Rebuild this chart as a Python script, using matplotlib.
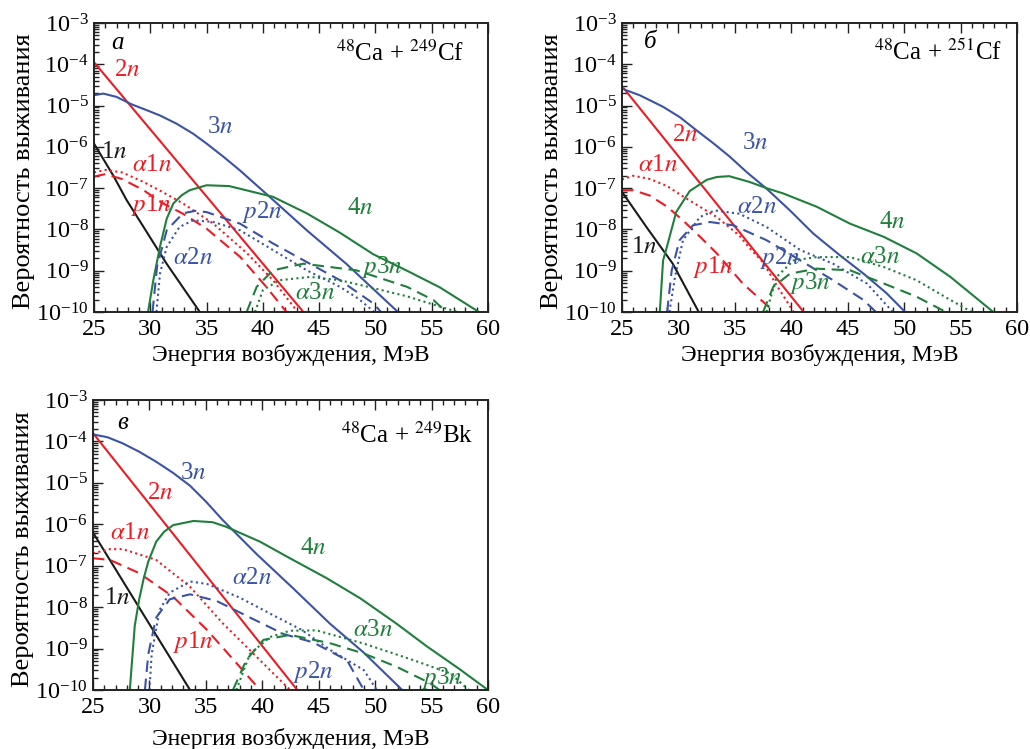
import numpy as np
import matplotlib
matplotlib.use("Agg")
import matplotlib.pyplot as plt
from matplotlib.ticker import LogLocator, MultipleLocator, NullFormatter

plt.rcParams['font.family'] = ['Liberation Serif', 'DejaVu Serif']
plt.rcParams['mathtext.fontset'] = 'stix'

RED = '#ec1c24'
BLUE = '#3a53a4'
GREEN = '#1f7f3b'
BLACK = '#1a1a1a'

# ---------------- data (energy in MeV, log10 of survival probability) -------
# panel a: 48Ca + 249Cf
a_2n_E = [25, 43.6];                          a_2n_lg = [-3.95, -10]
a_3n_E = [25, 25.83, 27.0, 28.34, 29.67, 30.86, 32.34, 33.8, 35.0, 36.5, 37.96, 40.6, 43.9, 47.4, 52.0]
a_3n_lg = [-4.75, -4.71, -4.79, -4.97, -5.11, -5.24, -5.44, -5.68, -5.92, -6.24, -6.57, -7.21, -8.02, -8.83, -10]
a_1n_E = [25, 26.7, 27.9, 29.4, 31.45, 34.4]
a_1n_lg = [-5.92, -6.69, -7.29, -7.94, -8.83, -10]
a_a1n_E = [25, 26, 27.5, 29.4, 31, 32.9, 35.6, 38.6, 40.9, 43.1]
a_a1n_lg = [-6.62, -6.56, -6.62, -6.85, -7.08, -7.37, -7.86, -8.58, -9.23, -10]
a_p1n_E = [25, 26, 27.5, 29.4, 31, 32.9, 35, 38, 40.3, 42.1]
a_p1n_lg = [-6.72, -6.66, -6.78, -7.05, -7.35, -7.62, -7.98, -8.67, -9.39, -10]
a_4n_E = [29.8, 30.27, 30.86, 31.46, 32.05, 32.8, 33.5, 35.0, 37.0, 40.9, 43.9, 46.85, 49.8, 52.8, 55.7, 59.2]
a_4n_lg = [-10, -9.23, -8.42, -7.74, -7.37, -7.17, -7.05, -6.93, -6.95, -7.21, -7.61, -8.08, -8.6, -9.0, -9.4, -10]
a_p2n_E = [30.2, 30.6, 31.46, 32.9, 34.0, 35.0, 37.97, 40.9, 43.9, 46.85, 49.8, 50.5]
a_p2n_lg = [-10, -8.9, -8.02, -7.61, -7.55, -7.58, -7.86, -8.34, -8.79, -9.23, -9.79, -10]
a_a2n_E = [30.55, 30.86, 31.46, 32.6, 33.8, 35.6, 37.97, 40.9, 43.9, 46.85, 48.5, 49.9]
a_a2n_lg = [-10, -9.07, -8.42, -7.94, -7.78, -7.82, -8.02, -8.5, -8.99, -9.39, -9.68, -10]
a_p3n_E = [38.56, 39.45, 40.9, 43.6, 48.3, 52.8, 55.15, 56.3]
a_p3n_lg = [-10, -9.39, -8.99, -8.83, -8.99, -9.39, -9.71, -10]
a_a3n_E = [39.3, 40.0, 41.5, 44.2, 46.85, 49.8, 52.8, 55.5, 57.3]
a_a3n_lg = [-10, -9.47, -9.23, -9.15, -9.23, -9.42, -9.62, -9.85, -10]

# panel b: 48Ca + 251Cf
b_2n_E = [25, 41.1];                          b_2n_lg = [-4.53, -10]
b_3n_E = [25, 26.57, 28.64, 30.12, 31.6, 33.08, 34.56, 36.04, 37.8, 39.88, 41.95, 44.32, 46.4, 48.46, 50.09]
b_3n_lg = [-4.59, -4.75, -5.03, -5.28, -5.6, -5.91, -6.24, -6.61, -7.01, -7.54, -8.10, -8.63, -9.07, -9.55, -10]
b_1n_E = [25, 27.16, 29.5, 31.8]
b_1n_lg = [-7.09, -7.94, -8.83, -10]
b_a1n_E = [25, 26, 27.5, 29, 30.4, 31.9, 33.4, 35.4, 36.3, 37.5, 38.7, 40.2]
b_a1n_lg = [-6.79, -6.70, -6.78, -6.95, -7.2, -7.45, -7.7, -8.15, -8.45, -8.8, -9.35, -10]
b_p1n_E = [25, 26, 27.46, 29, 30.4, 32, 33.4, 35.7, 38.1, 38.5]
b_p1n_lg = [-7.05, -7.05, -7.18, -7.45, -7.78, -8.2, -8.58, -9.31, -9.9, -10]
b_4n_E = [28.35, 28.64, 29.0, 29.8, 31.0, 32.5, 33.4, 34.5, 36.3, 37.8, 39.3, 42.25, 45.2, 48.2, 51.1, 54.1, 57.9]
b_4n_lg = [-10, -8.75, -8.4, -7.58, -7.07, -6.8, -6.73, -6.71, -6.85, -7.0, -7.13, -7.45, -7.86, -8.18, -8.58, -9.15, -10]
b_a2n_E = [29.2, 29.7, 30.4, 31.9, 33.2, 35.4, 37.8, 40.8, 43.7, 46.7, 49.0]
b_a2n_lg = [-10, -9.15, -8.26, -7.70, -7.54, -7.62, -7.94, -8.5, -8.83, -9.31, -10]
b_p2n_E = [29.0, 29.4, 30.1, 31.3, 32.8, 34.85, 37.8, 40.8, 43.7, 46.4, 47.5]
b_p2n_lg = [-10, -9.0, -8.26, -7.90, -7.82, -7.90, -8.26, -8.75, -9.23, -9.71, -10]
b_p3n_E = [37.5, 38.4, 39.9, 42.25, 45.2, 48.2, 51.1, 53.7]
b_p3n_lg = [-10, -9.39, -9.07, -8.95, -8.99, -9.31, -9.63, -10]
b_a3n_E = [37.8, 38.7, 40.2, 42.25, 45.2, 48.2, 51.1, 54.1, 56.0]
b_a3n_lg = [-10, -9.15, -8.75, -8.67, -8.67, -8.91, -9.23, -9.71, -10]

# panel c: 48Ca + 249Bk
c_2n_E = [25, 43.1];                          c_2n_lg = [-3.80, -10]
c_3n_E = [25, 26.3, 27.66, 29.1, 30.6, 32.1, 33.6, 35.0, 36.5, 39.5, 42.75, 46.0, 49.0, 52.4]
c_3n_lg = [-3.83, -3.9, -4.05, -4.25, -4.49, -4.76, -5.07, -5.45, -5.9, -6.72, -7.55, -8.4, -9.1, -10]
c_1n_E = [25, 29, 33.6]
c_1n_lg = [-6.2, -7.97, -10]
c_a1n_E = [25, 26.5, 27.66, 30.6, 33.6, 36.5, 39.5, 42.2, 42.5]
c_a1n_lg = [-6.70, -6.60, -6.60, -6.86, -7.51, -8.39, -9.2, -9.93, -10]
c_p1n_E = [25, 26.5, 29.1, 32.1, 35.1, 38.0, 39.8]
c_p1n_lg = [-6.82, -6.86, -7.18, -7.75, -8.55, -9.44, -10]
c_4n_E = [28.26, 28.7, 29.1, 29.5, 29.9, 30.6, 31.3, 32.1, 33.9, 35.6, 36.8, 39.8, 42.45, 45.7, 48.7, 51.9, 54.6, 57.5, 60.0]
c_4n_lg = [-10, -8.45, -7.8, -7.3, -6.9, -6.42, -6.18, -6.02, -5.92, -5.95, -6.06, -6.42, -6.82, -7.3, -7.79, -8.4, -8.95, -9.5, -10]
c_a2n_E = [30.0, 30.2, 30.9, 31.8, 33.6, 35.1, 38.0, 41.0, 43.5, 46.0, 49.0, 50.15]
c_a2n_lg = [-10, -9.13, -8.07, -7.65, -7.38, -7.44, -7.77, -8.2, -8.55, -9.03, -9.52, -10]
c_p2n_E = [29.6, 29.9, 30.6, 31.8, 33.6, 35.95, 38.9, 41.9, 44.5, 47.5, 49.0]
c_p2n_lg = [-10, -9.13, -8.25, -7.81, -7.69, -7.85, -8.25, -8.65, -8.85, -9.28, -10]
c_p3n_E = [37.4, 38.6, 40.1, 42.45, 46.0, 49.0, 51.9, 54.9, 55.7]
c_p3n_lg = [-10, -9.27, -8.79, -8.67, -8.87, -9.12, -9.44, -9.84, -10]
c_a3n_E = [37.7, 38.9, 40.7, 42.45, 44.8, 49.0, 53.4, 56.65, 58.3]
c_a3n_lg = [-10, -9.13, -8.72, -8.57, -8.56, -8.88, -9.28, -9.6, -10]

x_ticks = [25, 30, 35, 40, 45, 50, 55, 60]
panel_letters = ['а', 'б', 'в']
reactions = [r'$^{48}$Ca + $^{249}$Cf', r'$^{48}$Ca + $^{251}$Cf', r'$^{48}$Ca + $^{249}$Bk']
ylabel = 'Вероятность выживания'
xlabel = 'Энергия возбуждения, МэВ'

DOT = (0, (1.0, 1.6))
DASH = (0, (5.5, 3.2))
LW = 1.5

def curves(p):
    g = globals()
    spec = [('2n', RED, '-'), ('3n', BLUE, '-'), ('1n', BLACK, '-'),
            ('a1n', RED, DOT), ('p1n', RED, DASH), ('4n', GREEN, '-'),
            ('p2n', BLUE, DASH), ('a2n', BLUE, DOT), ('p3n', GREEN, DASH),
            ('a3n', GREEN, DOT)]
    return [(g[f'{p}_{k}_E'], g[f'{p}_{k}_lg'], c, ls) for k, c, ls in spec]

# label positions in pixel coordinates of the figure (x, y from top)
labels = {
    'a': [('2$n$', RED, 127, 70), ('3$n$', BLUE, 220, 127), ('1$n$', BLACK, 114, 152),
          (r'$\alpha$1$n$', RED, 152, 165), ('$p$1$n$', RED, 151, 205),
          ('$p$2$n$', BLUE, 262, 212), ('4$n$', GREEN, 360, 208),
          (r'$\alpha$2$n$', BLUE, 193, 258), ('$p$3$n$', GREEN, 382, 267),
          (r'$\alpha$3$n$', GREEN, 315, 293)],
    'b': [('2$n$', RED, 685, 135), ('3$n$', BLUE, 755, 143), (r'$\alpha$1$n$', RED, 658, 165),
          (r'$\alpha$2$n$', BLUE, 757, 207), ('4$n$', GREEN, 892, 222), ('1$n$', BLACK, 644, 247),
          ('$p$1$n$', RED, 713, 267), ('$p$2$n$', BLUE, 780, 258),
          (r'$\alpha$3$n$', GREEN, 880, 257), ('$p$3$n$', GREEN, 810, 283)],
    'c': [('3$n$', BLUE, 193, 473), ('2$n$', RED, 160, 493), (r'$\alpha$1$n$', RED, 130, 533),
          ('4$n$', GREEN, 313, 548), (r'$\alpha$2$n$', BLUE, 252, 578), ('1$n$', BLACK, 117, 598),
          (r'$\alpha$3$n$', GREEN, 373, 630), ('$p$1$n$', RED, 193, 642),
          ('$p$2$n$', BLUE, 313, 672), ('$p$3$n$', GREEN, 442, 678)],
}

W, H = 1030, 749
fig = plt.figure(figsize=(W / 100, H / 100), dpi=100)

def rect(l, t, r, b):
    return [l / W, 1 - b / H, (r - l) / W, (b - t) / H]

boxes = {'a': (94, 23, 488, 312), 'b': (622, 23, 1017, 312), 'c': (93, 400, 488, 690)}
axes = {k: fig.add_axes(rect(*v)) for k, v in boxes.items()}
letter_pos = {'a': (117, 43), 'b': (650, 42), 'c': (123, 423)}
react_pos = {'a': (400, 53), 'b': (938, 52), 'c': (407, 435)}
xlabel_y = {'a': 355, 'b': 355, 'c': 739}

TICK_FS = 17.5
XL_FS = 17
YL_FS = 19
TXT_FS = 18
for i, key in enumerate(['a', 'b', 'c']):
    ax = axes[key]
    for E, lg, col, ls in curves(key):
        ax.plot(E, 10.0 ** np.asarray(lg), color=col, ls=ls, lw=LW)
    ax.set_yscale('log')
    ax.set_xlim(25, 60)
    ax.set_ylim(1e-10, 1e-3)
    ax.set_xticks(x_ticks)
    ax.xaxis.set_minor_locator(MultipleLocator(1))
    ax.yaxis.set_major_locator(LogLocator(base=10, numticks=20))
    ax.yaxis.set_minor_locator(LogLocator(base=10, subs=np.arange(2, 10), numticks=20))
    ax.yaxis.set_minor_formatter(NullFormatter())
    ax.tick_params(which='both', direction='in', top=True, right=False, width=1.0, color='#222222')
    ax.tick_params(which='major', length=7)
    ax.tick_params(which='minor', length=3.5)
    ax.tick_params(axis='x', which='major', pad=5, labelsize=TICK_FS)
    ax.tick_params(axis='y', which='major', pad=4, labelsize=TICK_FS)
    for s in ax.spines.values():
        s.set_linewidth(1.4)
        s.set_color('#222222')
    l, t, r, b = boxes[key]
    fig.text((l + r) / 2 / W, 1 - xlabel_y[key] / H, xlabel, fontsize=XL_FS,
             ha='center', va='center')
    fig.text((l - 70) / W, 1 - ((t + b) / 2 + 4) / H, ylabel, fontsize=YL_FS,
             rotation=90, ha='center', va='center')
    lx, ly = letter_pos[key]
    fig.text(lx / W, 1 - ly / H, panel_letters[i], fontsize=TXT_FS, style='italic',
             ha='center', va='center')
    rx, ry = react_pos[key]
    fig.text(rx / W, 1 - ry / H, reactions[i], fontsize=TXT_FS, ha='center', va='center')
    for txt, col, px, py in labels[key]:
        fig.text(px / W, 1 - py / H, txt, color=col, fontsize=TXT_FS, ha='center', va='center')

fig.savefig('out.png', dpi=100)
